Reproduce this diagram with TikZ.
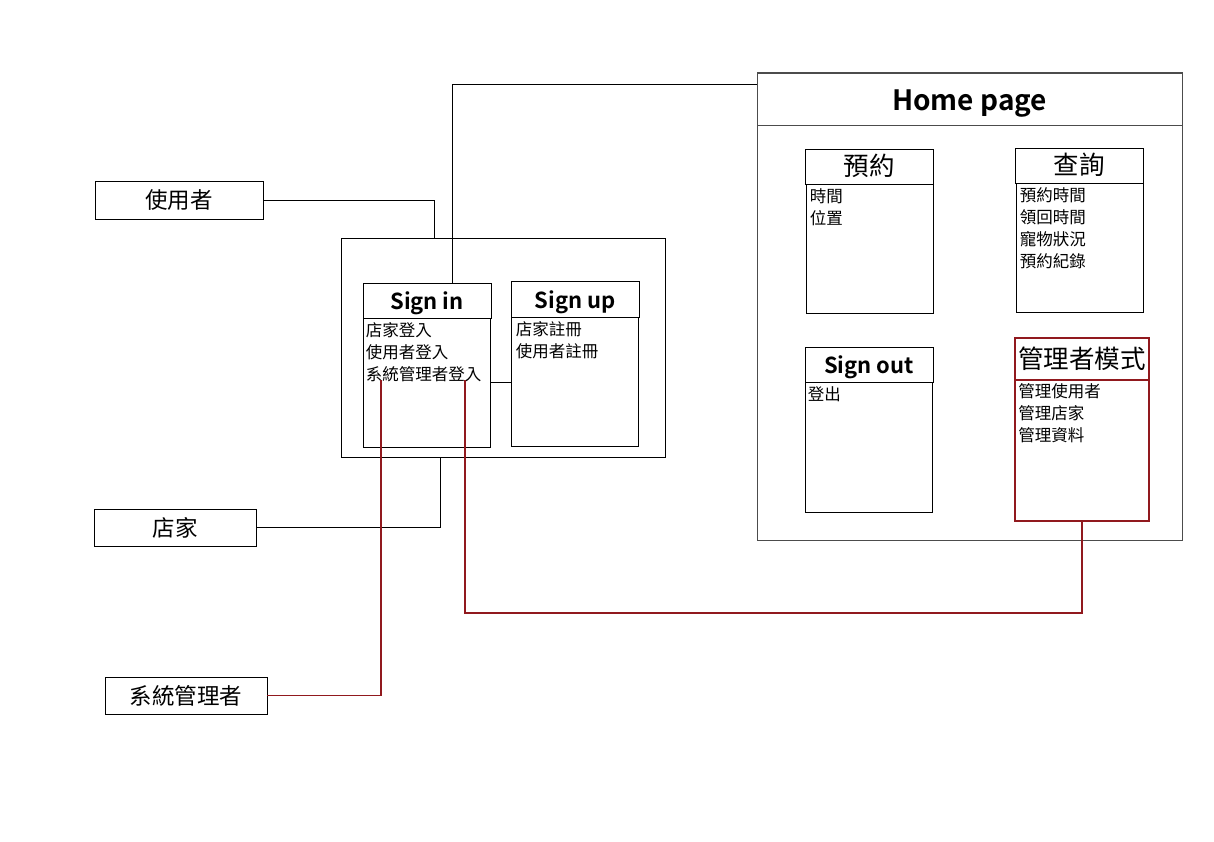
\documentclass[tikz,border=0pt]{standalone}
\usepackage{fontspec}
\setmainfont{Noto Sans CJK TC}[BoldFont={Noto Sans CJK TC Bold}]
\usepackage{tikz}
\usetikzlibrary{positioning,calc}
\usepackage{xcolor}
\definecolor{admred}{RGB}{145,25,30}

\begin{document}
\begin{tikzpicture}[x=1pt, y=-1pt,
  actor/.style={draw, line width=0.8pt, minimum height=38pt, inner sep=0pt,
                font=\fontsize{22.5}{24}\selectfont},
  head/.style={draw, line width=0.8pt, minimum width=128pt, minimum height=35pt, inner sep=0pt,
               text height=19pt, text depth=1pt, font=\fontsize{22}{24}\selectfont\bfseries},
  chead/.style={head, text height=21pt, text depth=3pt, font=\fontsize{25.5}{27}\selectfont},
  panel/.style={draw, line width=0.8pt, minimum width=127pt, minimum height=129pt, inner sep=0pt},
  items/.style={anchor=north west, align=left, inner sep=0pt,
                font=\fontsize{16.5}{22}\selectfont},
  link/.style={line width=0.8pt},
  redlink/.style={line width=1.6pt, admred}]
  \useasboundingbox (0,0) rectangle (1214,842);

  % actors
  \node[actor, minimum width=168pt] (user) at (179,200) {使用者};
  \node[actor, minimum width=162pt, minimum height=37pt] (shop) at (175,527.5) {店家};
  \node[actor, minimum width=162pt, minimum height=37pt] (admin) at (186,695.5) {系統管理者};

  % sign in / sign up
  \node[draw, line width=0.8pt, minimum width=324pt, minimum height=219pt] (signbox) at (503,347.5) {};
  \node[head] (sihead) at (427,300.5) {Sign in};
  \node[panel] (sibody) at (426.5,382.5) {};
  \node[items] (silist) at ($(sibody.north west)+(3,5)$) {店家登入\\使用者登入\\系統管理者登入};
  \node[head, minimum height=36pt] (suhead) at (575,299) {Sign up};
  \node[panel] (subody) at (574.5,381.5) {};
  \node[items] (sulist) at ($(subody.north west)+(5,5)$) {店家註冊\\使用者註冊};

  % home page
  \node[draw, black!70, line width=1pt, minimum width=425pt, minimum height=467pt] (home) at (969.5,306.5) {};
  \node[draw, black!70, line width=1pt, minimum width=425pt, minimum height=52pt, text height=24pt, text depth=2pt,
        font=\fontsize{28}{30}\selectfont\bfseries, text=black] (homehead) at (969.5,100) {Home page};
  \node[chead] (yyhead) at (869,166.5) {預約};
  \node[panel] (yybody) at (869.5,248.5) {};
  \node[items] (yylist) at ($(yybody.north west)+(4,5)$) {時間\\位置};
  \node[chead] (cxhead) at (1079,165.5) {查詢};
  \node[panel] (cxbody) at (1079.5,247.5) {};
  \node[items] (cxlist) at ($(cxbody.north west)+(4,5)$) {預約時間\\領回時間\\寵物狀況\\預約紀錄};
  \node[head] (sohead) at (869,364.5) {Sign out};
  \node[panel, minimum height=130pt] (sobody) at (868.5,447) {};
  \node[items] (solist) at ($(sobody.north west)+(3,5)$) {登出};
  \node[chead, admred, line width=1.6pt, minimum width=134pt, minimum height=42pt, text=black] (mdhead) at (1082,359) {管理者模式};
  \node[panel, admred, line width=1.6pt, minimum width=134pt, minimum height=141pt] (mdbody) at (1082,450.5) {};
  \node[items] (mdlist) at ($(mdbody.north west)+(4,4)$) {管理使用者\\管理店家\\管理資料};

  % connectors
  \coordinate (userin) at (434,238);
  \coordinate (shopin) at (440,457);
  \coordinate (sitop) at (452,283);
  \coordinate (adminin) at (381,380);
  \coordinate (adminout) at (465,380);
  \draw[link] (user.east) -| (userin);
  \draw[link] (shop.east) -| (shopin);
  \draw[link] (sitop) |- ($(home.north west)+(0,12)$);
  \draw[link] (sibody.east) -- (sibody.east -| subody.west);
  \draw[redlink] (admin.east) -| (adminin);
  \draw[redlink] (adminout) -- ++(0,233) -| (mdbody.south);
\end{tikzpicture}
\end{document}
